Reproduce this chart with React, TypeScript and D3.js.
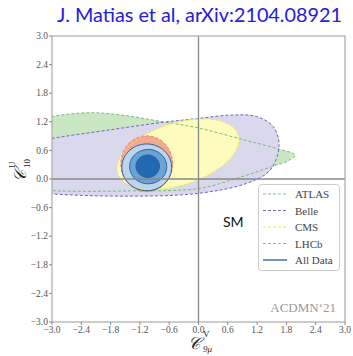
import React from "react";
import * as d3 from "d3";

const W = 353, H = 356;
const ticks = [-3.0, -2.4, -1.8, -1.2, -0.6, 0.0, 0.6, 1.2, 1.8, 2.4, 3.0];

// ATLAS contour boundary (data coords)
const atlasX = [-3.7, -3.3, -3.0, -2.2, -1.5, -0.73, 0.0, 0.9, 1.6, 1.98, 1.85, 1.5, 0.8, 0.0, -1.4, -3.0, -3.4];
const atlasY = [0.55, 1.22, 1.31, 1.39, 1.33, 1.2, 1.07, 0.83, 0.64, 0.5, 0.39, 0.26, 0.02, -0.2, -0.25, -0.245, -0.2];
// Belle contour boundary
const belleX = [-3.7, -3.3, -3.0, -1.75, -0.73, 0.0, 0.65, 1.19, 1.53, 1.65, 1.47, 0.99, 0.0, -1.4, -3.0, -3.4];
const belleY = [0.3, 0.78, 0.85, 1.04, 1.19, 1.27, 1.34, 1.31, 1.1, 0.71, 0.19, -0.09, -0.3, -0.36, -0.31, -0.25];
// Ellipse-like contours: [cx, cy, rx, ry, angleDeg]
const cms = [-0.42, 0.52, 1.3, 0.65, 18.3];
const lhcb = [-1.06, 0.32, 0.53, 0.585, 0];
const all3 = [-1.06, 0.245, 0.51, 0.49, 0];
const all2 = [-1.03, 0.26, 0.38, 0.36, 0];
const all1 = [-1.04, 0.268, 0.24, 0.235, 0];

const legendLabels = ["ATLAS", "Belle", "CMS", "LHCb", "All Data"];
const legendColors = ["#7cc47a", "#7468c4", "#eded3a", "#ee8a78", "#3f6fa6"];

function ellipse(p: number[]) {
  const [cx, cy, rx, ry, ang] = p;
  const t = (ang * Math.PI) / 180;
  return d3.range(0, 2 * Math.PI, Math.PI / 60).map((a) => [
    cx + rx * Math.cos(a) * Math.cos(t) - ry * Math.sin(a) * Math.sin(t),
    cy + rx * Math.cos(a) * Math.sin(t) + ry * Math.sin(a) * Math.cos(t),
  ]);
}

export default function App() {
  const x = d3.scaleLinear().domain([-3, 3]).range([52, 345]);
  const y = d3.scaleLinear().domain([-3, 3]).range([322, 36]);
  const closed = d3
    .line<number[]>()
    .x((d) => x(d[0]))
    .y((d) => y(d[1]))
    .curve(d3.curveCatmullRomClosed);
  const smooth = d3
    .line<number[]>()
    .x((d) => x(d[0]))
    .y((d) => y(d[1]))
    .curve(d3.curveLinearClosed);
  const atlas = closed(atlasX.map((v, i) => [v, atlasY[i]]))!;
  const belle = closed(belleX.map((v, i) => [v, belleY[i]]))!;
  const cmsP = smooth(ellipse(cms))!;
  const lhcbP = smooth(ellipse(lhcb))!;
  const a3 = smooth(ellipse(all3))!;
  const a2 = smooth(ellipse(all2))!;
  const a1 = smooth(ellipse(all1))!;
  const serif = "'Liberation Serif', 'DejaVu Serif', serif";
  const fmt = (v: number) => (v < 0 ? "\u2212" : "") + Math.abs(v).toFixed(1);

  return (
    <svg width={W} height={H} style={{ position: "absolute", left: 0, top: 0, background: "#fff" }}>
      <defs>
        <clipPath id="plotclip">
          <rect x={52} y={36} width={293} height={286} />
        </clipPath>
      </defs>
      <text x={57} y={22} fontFamily="Lato, 'Open Sans', sans-serif" fontSize={19} fill="#2020e0" textLength={285} lengthAdjust="spacingAndGlyphs">
        J. Matias et al, arXiv:2104.08921
      </text>
      <g clipPath="url(#plotclip)">
        <path d={atlas} fill="#c9e7c3" />
        <path d={belle} fill="#dad8ed" />
        <path d={cmsP} fill="#fdfbbd" />
        <path d={lhcbP} fill="#f3a892" />
        <path d={a3} fill="#bdd5ec" />
        <path d={a2} fill="#6aa3d6" />
        <path d={a1} fill="#2169b1" />
        <path d={atlas} fill="none" stroke="#74c070" strokeWidth={1} strokeDasharray="3,2" />
        <path d={belle} fill="none" stroke="#6f63c0" strokeWidth={1} strokeDasharray="3,2" />
        <path d={cmsP} fill="none" stroke="#eded3a" strokeWidth={1} strokeDasharray="3,2" />
        <path d={lhcbP} fill="none" stroke="#ec7e6a" strokeWidth={1} strokeDasharray="3,2" />
        <path d={a3} fill="none" stroke="#2a5a96" strokeWidth={1} />
        <path d={a2} fill="none" stroke="#2a5a96" strokeWidth={1} />
        <path d={a1} fill="none" stroke="#2a5a96" strokeWidth={1} />
        <line x1={x(0)} x2={x(0)} y1={36} y2={322} stroke="#888" strokeWidth={1.3} />
        <line x1={52} x2={345} y1={y(0)} y2={y(0)} stroke="#888" strokeWidth={1.3} />
      </g>
      <rect x={52} y={36} width={293} height={286} fill="none" stroke="#aaa" strokeWidth={1.2} />
      {ticks.map((t) => (
        <g key={"y" + t}>
          <line x1={49} x2={52} y1={y(t)} y2={y(t)} stroke="#888" />
          <text x={48} y={y(t) + 3.2} textAnchor="end" fontFamily={serif} fontSize={9.5} fill="#555">
            {fmt(t)}
          </text>
          <line x1={x(t)} x2={x(t)} y1={322} y2={325} stroke="#888" />
          <text x={x(t)} y={333} textAnchor="middle" fontFamily={serif} fontSize={9.5} fill="#555">
            {fmt(t)}
          </text>
        </g>
      ))}
      <text x={223} y={227} fontFamily="Lato, 'Open Sans', sans-serif" fontSize={14} fill="#111">
        SM
      </text>
      <text x={336} y={312} textAnchor="end" fontFamily={serif} fontSize={13} fill="#999">
        ACDMN‘21
      </text>
      <g>
        <rect x={258.5} y={184.5} width={81} height={86} rx={3} fill="#fff" fillOpacity={0.85} stroke="#ccc" />
        {legendLabels.map((l, i) => (
          <g key={l}>
            <line x1={263} x2={287} y1={194 + i * 16.5} y2={194 + i * 16.5} stroke={legendColors[i]} strokeWidth={i === 4 ? 1.5 : 1} strokeDasharray={i === 4 ? undefined : "3,2"} />
            <text x={295} y={198 + i * 16.5} fontFamily={serif} fontSize={11} fill="#444">
              {l}
            </text>
          </g>
        ))}
      </g>
      <g fontFamily={serif} fill="#222">
        <text x={188} y={349} fontSize={17} fontStyle="italic">𝒞</text>
        <text x={203} y={337} fontSize={9}>V</text>
        <text x={203} y={352} fontSize={9} fontStyle="italic">9μ</text>
      </g>
      <g fontFamily={serif} fill="#222" transform="translate(24,176) rotate(-90)">
        <text x={-6} y={2} fontSize={17} fontStyle="italic">𝒞</text>
        <text x={8} y={-9} fontSize={9}>U</text>
        <text x={8} y={6} fontSize={9}>10</text>
      </g>
    </svg>
  );
}
